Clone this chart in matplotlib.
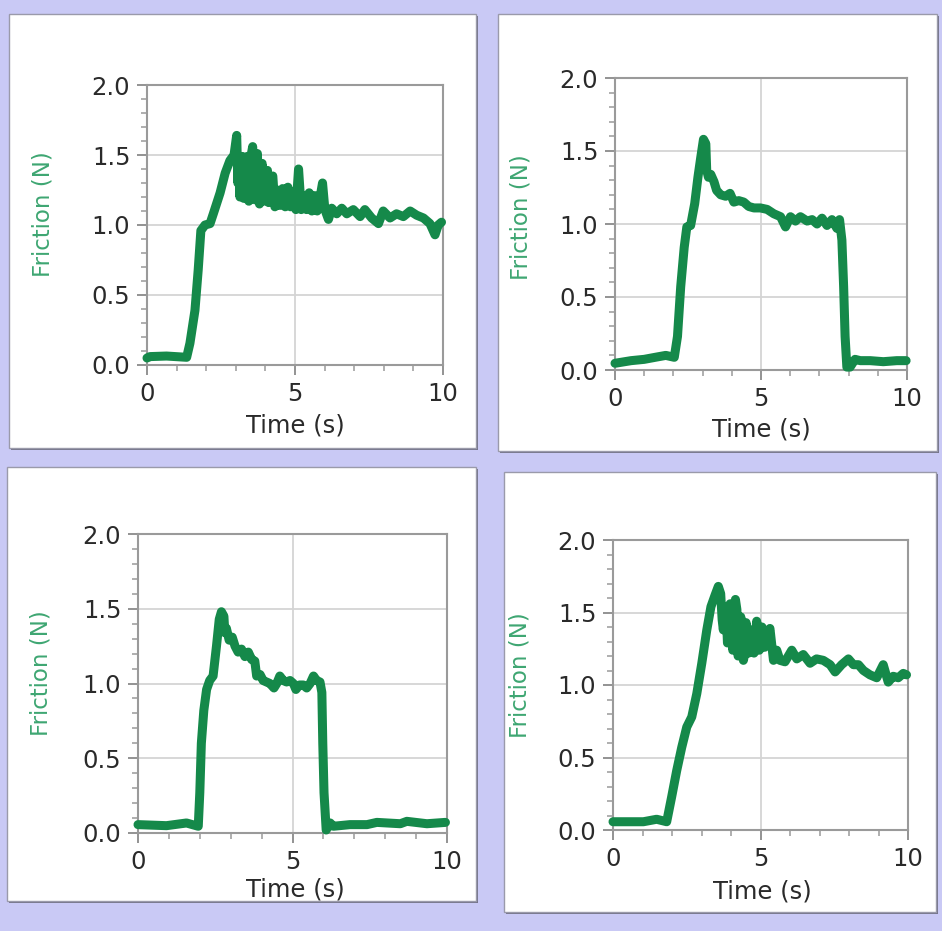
import matplotlib
matplotlib.use("Agg")
import matplotlib.pyplot as plt
from matplotlib.patches import Rectangle
from matplotlib.ticker import MultipleLocator, FormatStrFormatter

W, H = 942, 931

# friction traces (time in s, friction in N)
t1 = [0.00, 0.10, 0.66, 1.34, 1.45, 1.62, 1.73, 1.82, 1.96, 2.13, 2.24, 2.47, 2.64, 2.80, 2.94,
      3.03, 3.07, 3.09, 3.14, 3.18, 3.22, 3.27, 3.31, 3.35, 3.39, 3.44, 3.48, 3.52, 3.57, 3.61,
      3.65, 3.69, 3.73, 3.77, 3.80, 3.85, 3.89, 3.94, 3.98, 4.02, 4.07, 4.11, 4.16,
      4.25, 4.32, 4.40, 4.49, 4.58, 4.67, 4.76, 4.85, 4.94, 5.03, 5.12, 5.21, 5.30, 5.39, 5.48,
      5.57, 5.66, 5.75, 5.84, 5.93, 6.01, 6.13, 6.24, 6.41, 6.58, 6.75, 6.97, 7.20, 7.36, 7.59,
      7.82, 7.98, 8.21, 8.43, 8.66, 8.89, 9.11, 9.34, 9.56, 9.73, 9.84, 9.95]
f1 = [0.05, 0.06, 0.064, 0.055, 0.155, 0.39, 0.68, 0.96, 1.00, 1.01, 1.08, 1.23, 1.37, 1.46, 1.50,
      1.64, 1.30, 1.46, 1.20, 1.42, 1.49, 1.19, 1.21, 1.45, 1.49, 1.17, 1.21, 1.50, 1.56, 1.20,
      1.18, 1.47, 1.51, 1.18, 1.15, 1.40, 1.44, 1.17, 1.20, 1.36, 1.39, 1.16, 1.30,
      1.35, 1.13, 1.25, 1.14, 1.26, 1.13, 1.27, 1.13, 1.24, 1.11, 1.40, 1.11, 1.21, 1.11, 1.23,
      1.10, 1.21, 1.10, 1.19, 1.30, 1.11, 1.04, 1.12, 1.08, 1.12, 1.08, 1.11, 1.06, 1.11, 1.05,
      1.01, 1.10, 1.05, 1.08, 1.06, 1.10, 1.07, 1.05, 1.01, 0.93, 1.00, 1.02]

t2 = [0.00, 0.55, 1.00, 1.46, 1.74, 2.03, 2.14, 2.25, 2.37, 2.46, 2.59, 2.73, 2.84, 2.94, 3.03,
      3.11, 3.14, 3.20, 3.28, 3.39, 3.48, 3.62, 3.79, 3.94, 4.07, 4.24, 4.41, 4.58, 4.76, 4.98,
      5.21, 5.44, 5.67, 5.84, 6.01, 6.18, 6.35, 6.58, 6.75, 6.92, 7.09, 7.26, 7.43, 7.60, 7.69,
      7.77, 7.83, 7.88, 7.94, 8.05, 8.22, 8.40, 8.74, 9.19, 9.65, 9.97]
f2 = [0.046, 0.064, 0.073, 0.09, 0.10, 0.087, 0.23, 0.57, 0.84, 0.98, 0.99, 1.14, 1.32, 1.46, 1.58,
      1.55, 1.37, 1.32, 1.34, 1.29, 1.23, 1.20, 1.19, 1.21, 1.15, 1.16, 1.15, 1.12, 1.11, 1.11,
      1.10, 1.07, 1.05, 0.98, 1.05, 1.02, 1.05, 1.02, 1.03, 1.00, 1.04, 0.99, 1.03, 0.97, 1.03,
      0.89, 0.57, 0.23, 0.02, 0.02, 0.073, 0.064, 0.064, 0.057, 0.064, 0.064]

t3 = [0.00, 0.92, 1.57, 1.95, 2.00, 2.05, 2.13, 2.22, 2.32, 2.43, 2.54, 2.63, 2.70, 2.78, 2.81,
      2.86, 2.95, 3.05, 3.14, 3.24, 3.35, 3.46, 3.57, 3.68, 3.78, 3.84, 3.95, 4.05, 4.16, 4.27,
      4.40, 4.49, 4.59, 4.70, 4.81, 4.92, 5.03, 5.11, 5.22, 5.35, 5.46, 5.57, 5.68, 5.78, 5.89,
      5.95, 5.98, 6.02, 6.09, 6.22, 6.32, 6.86, 7.41, 7.73, 8.49, 8.70, 9.35, 9.95]
f3 = [0.056, 0.049, 0.067, 0.045, 0.27, 0.60, 0.82, 0.96, 1.02, 1.05, 1.25, 1.43, 1.48, 1.45, 1.34,
      1.37, 1.29, 1.31, 1.25, 1.21, 1.23, 1.18, 1.21, 1.16, 1.15, 1.05, 1.06, 1.02, 1.01, 1.00,
      0.97, 1.00, 1.05, 1.02, 1.01, 1.02, 1.00, 0.96, 0.99, 0.99, 0.97, 1.00, 1.05, 1.02, 1.01,
      0.94, 0.60, 0.27, 0.02, 0.067, 0.045, 0.056, 0.056, 0.071, 0.062, 0.078, 0.062, 0.071]

t4 = [0.00, 1.03, 1.48, 1.82, 1.99, 2.16, 2.33, 2.50, 2.67, 2.84, 3.01, 3.18, 3.32, 3.46, 3.57,
      3.65, 3.70, 3.74, 3.80, 3.84, 3.88, 3.93, 3.97, 4.02, 4.06, 4.10, 4.15, 4.20, 4.24, 4.29,
      4.33, 4.38, 4.42, 4.47, 4.51, 4.56, 4.60, 4.69, 4.78, 4.87,
      4.96, 5.05, 5.14, 5.23, 5.32, 5.44, 5.55, 5.66, 5.83, 6.06, 6.23, 6.45, 6.68, 6.90, 7.13,
      7.36, 7.53, 7.75, 7.98, 8.15, 8.32, 8.49, 8.71, 8.94, 9.16, 9.33, 9.50, 9.67, 9.84, 9.95]
f4 = [0.057, 0.057, 0.074, 0.057, 0.23, 0.41, 0.57, 0.71, 0.78, 0.94, 1.15, 1.38, 1.54, 1.62, 1.68,
      1.63, 1.45, 1.38, 1.54, 1.50, 1.29, 1.33, 1.56, 1.50, 1.24, 1.30, 1.59, 1.52, 1.20, 1.26,
      1.47, 1.40, 1.17, 1.22, 1.43, 1.35, 1.22, 1.38, 1.22, 1.44,
      1.24, 1.40, 1.26, 1.34, 1.39, 1.17, 1.24, 1.17, 1.16, 1.24, 1.18, 1.21, 1.15, 1.18, 1.17,
      1.14, 1.09, 1.14, 1.18, 1.14, 1.14, 1.10, 1.07, 1.05, 1.14, 1.02, 1.06, 1.05, 1.08, 1.07]

x_ticks = [0, 5, 10]
y_ticks = [0.0, 0.5, 1.0, 1.5, 2.0]
x_label = "Time (s)"
y_label = "Friction (N)"

# pixel layout: panel box, axes box (left, top, right, bottom), label centres
panels = [
    dict(t=t1, f=f1, box=(9, 14, 476, 448), ax=(147, 85, 443, 365), xl=(295, 426), yl=(43, 214)),
    dict(t=t2, f=f2, box=(498, 14, 937, 451), ax=(615, 78, 907, 370), xl=(761, 430), yl=(521, 217)),
    dict(t=t3, f=f3, box=(7, 467, 476, 901), ax=(138, 534, 447, 833), xl=(295, 890), yl=(41, 673)),
    dict(t=t4, f=f4, box=(504, 472, 936, 912), ax=(613, 540, 908, 830), xl=(762, 892), yl=(520, 675)),
]

GREEN = "#15894a"
LABEL_GREEN = "#3ea672"
BG = "#c9c9f5"


def fx(x):
    return x / W


def fy(y):
    return 1 - y / H


fig = plt.figure(figsize=(W / 100, H / 100), dpi=100, facecolor=BG)

for p in panels:
    x0, y0, x1, y1 = p["box"]
    # shadow, then white card
    fig.add_artist(Rectangle((fx(x0 + 2), fy(y1 + 2)), fx(x1 - x0), (y1 - y0) / H,
                             transform=fig.transFigure, facecolor="#74748a", edgecolor="none", zorder=0))
    fig.add_artist(Rectangle((fx(x0), fy(y1)), fx(x1 - x0), (y1 - y0) / H,
                             transform=fig.transFigure, facecolor="white", edgecolor="#9a9aaa",
                             lw=1.0, zorder=0.5))

    l, t, r, b = p["ax"]
    ax = fig.add_axes([fx(l), fy(b), fx(r - l), (b - t) / H])
    ax.set_zorder(2)
    ax.plot(p["t"], p["f"], color=GREEN, lw=6.5, solid_joinstyle="round",
            solid_capstyle="round", clip_on=False, zorder=3)
    ax.set_xlim(0, 10)
    ax.set_ylim(0, 2)
    ax.set_xticks(x_ticks)
    ax.set_yticks(y_ticks)
    ax.yaxis.set_major_formatter(FormatStrFormatter("%.1f"))
    ax.xaxis.set_minor_locator(MultipleLocator(1))
    ax.yaxis.set_minor_locator(MultipleLocator(0.1))
    ax.tick_params(which="major", length=7, width=1.3, color="#8a8a8a",
                   labelsize=17.5, labelcolor="#2a2a2a", pad=5)
    ax.tick_params(which="minor", length=4, width=1.1, color="#9a9a9a")
    ax.grid(which="major", color="#d4d4d4", lw=1.3)
    ax.set_axisbelow(True)
    for s in ax.spines.values():
        s.set_color("#9a9a9a")
        s.set_linewidth(1.5)

    fig.text(fx(p["xl"][0]), fy(p["xl"][1]), x_label, ha="center", va="center",
             fontsize=17.5, color="#2a2a2a")
    fig.text(fx(p["yl"][0]), fy(p["yl"][1]), y_label, ha="center", va="center",
             rotation=90, fontsize=16.5, color=LABEL_GREEN)

fig.savefig("out.png", dpi=100, facecolor=BG)
